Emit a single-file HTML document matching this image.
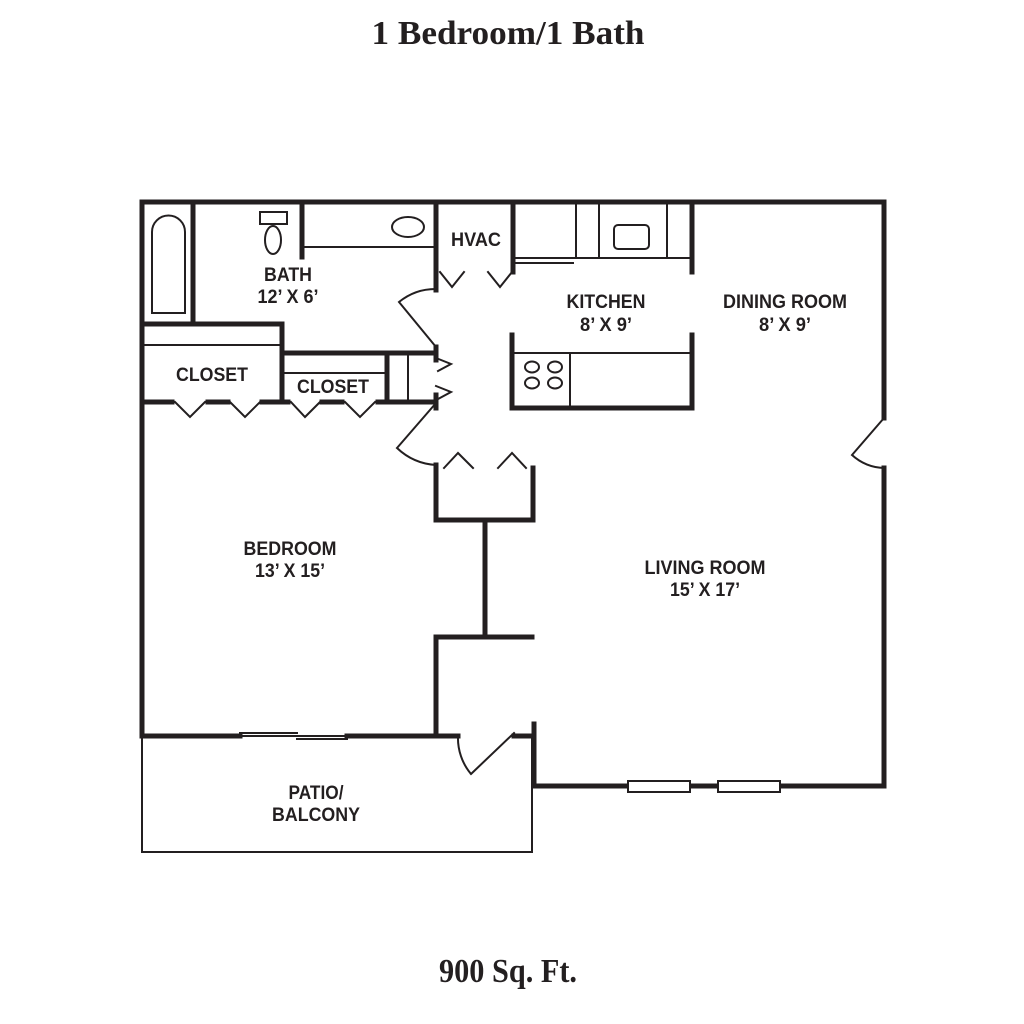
<!DOCTYPE html>
<html><head><meta charset="utf-8"><style>
html,body{margin:0;padding:0;background:#fff;width:1024px;height:1024px;overflow:hidden}
svg{display:block}
.l{font-family:"Liberation Sans Narrow","Liberation Sans",sans-serif;font-weight:bold;font-size:19px;fill:#231f20;text-anchor:middle}
.t{font-family:"Liberation Serif",serif;font-weight:bold;font-size:34px;fill:#231f20;text-anchor:middle}
</style></head><body>
<svg width="1024" height="1024" viewBox="0 0 1024 1024" xmlns="http://www.w3.org/2000/svg">
<text class="t" x="508" y="44" textLength="273" lengthAdjust="spacingAndGlyphs">1 Bedroom/1 Bath</text>
<text class="t" x="508" y="982" textLength="138" lengthAdjust="spacingAndGlyphs">900 Sq. Ft.</text>
<g stroke="#231f20" fill="none" stroke-linecap="square">
<g stroke-width="5">
<path d="M142 736 V202 H884 V418"/>
<path d="M884 468 V786 H780 M718 786 H690 M628 786 H534 V724"/>
<path d="M142 736 H240 M347 736 H458 M514 736 H534"/>
<path d="M193 202 V323"/>
<path d="M142 324 H282 V402"/>
<path d="M142 402 H172 M208 402 H228 M262 402 H288 M322 402 H342 M378 402 H436"/>
<path d="M282 353 H436"/>
<path d="M387 353 V402"/>
<path d="M302 202 V257"/>
<path d="M436 202 V290"/>
<path d="M436 347 V360 M436 395 V408"/>
<path d="M513 202 V272"/>
<path d="M692 202 V272"/>
<path d="M512 335 V408 H692 V335"/>
<path d="M436 465 V520 H533 V468"/>
<path d="M485 520 V637"/>
<path d="M532 637 H436 V736"/>
</g>
<g stroke-width="2">
<path d="M142 345 H282"/>
<path d="M282 373 H385"/>
<path d="M408 353 V402"/>
<path d="M302 247 H436"/>
<path d="M513 258 H692 M513 263 H573"/>
<path d="M576 202 V258 M599 202 V258 M667 202 V258"/>
<path d="M512 353 H692 M570 353 V408"/>
<path d="M240 736 H347 M240 733 H297 M297 739 H347"/>
<path d="M142 736 V852 H532 V736"/>
<rect x="628" y="781" width="62" height="11" fill="#fff"/>
<rect x="718" y="781" width="62" height="11" fill="#fff"/>
<path d="M152 313 V232 A16.5 16.5 0 0 1 185 232 V313 Z"/>
<rect x="260" y="212" width="27" height="12"/>
<ellipse cx="273" cy="240" rx="8" ry="14"/>
<ellipse cx="408" cy="227" rx="16" ry="10"/>
<rect x="614" y="225" width="35" height="24" rx="4"/>
<ellipse cx="532" cy="367" rx="7" ry="5.5"/><ellipse cx="555" cy="367" rx="7" ry="5.5"/>
<ellipse cx="532" cy="383" rx="7" ry="5.5"/><ellipse cx="555" cy="383" rx="7" ry="5.5"/>
<path d="M436 347 L399 302 M399 302 A58 58 0 0 1 436 289"/>
<path d="M436 403 L397 448 M397 448 A62 62 0 0 0 436 465"/>
<path d="M884 418 L852 455 M852 455 A50 50 0 0 0 884 468"/>
<path d="M514 733 L471 774 M471 774 A56 56 0 0 1 458 736"/>
<path d="M440 272 L452 287 L464 272 M488 272 L500 287 L512 272"/>
<path d="M175 402 L190 417 L205 402 M230 402 L245 417 L260 402"/>
<path d="M291 402 L305 417 L320 402 M345 402 L360 417 L375 402"/>
<path d="M436 358 L451 364 L438 371 M436 386 L451 392 L438 399"/>
<path d="M444 468 L458 453 L473 468 M498 468 L512 453 L526 468"/>
</g>
</g>
<text class="l" x="476" y="246" textLength="50" lengthAdjust="spacingAndGlyphs">HVAC</text>
<text class="l" x="288" y="281" textLength="48" lengthAdjust="spacingAndGlyphs">BATH</text>
<text class="l" x="288" y="303" textLength="61" lengthAdjust="spacingAndGlyphs">12’ X 6’</text>
<text class="l" x="606" y="308" textLength="79" lengthAdjust="spacingAndGlyphs">KITCHEN</text>
<text class="l" x="606" y="331" textLength="52" lengthAdjust="spacingAndGlyphs">8’ X 9’</text>
<text class="l" x="785" y="308" textLength="124" lengthAdjust="spacingAndGlyphs">DINING ROOM</text>
<text class="l" x="785" y="331" textLength="52" lengthAdjust="spacingAndGlyphs">8’ X 9’</text>
<text class="l" x="212" y="381" textLength="72" lengthAdjust="spacingAndGlyphs">CLOSET</text>
<text class="l" x="333" y="393" textLength="72" lengthAdjust="spacingAndGlyphs">CLOSET</text>
<text class="l" x="290" y="555" textLength="93" lengthAdjust="spacingAndGlyphs">BEDROOM</text>
<text class="l" x="290" y="577" textLength="70" lengthAdjust="spacingAndGlyphs">13’ X 15’</text>
<text class="l" x="705" y="574" textLength="121" lengthAdjust="spacingAndGlyphs">LIVING ROOM</text>
<text class="l" x="705" y="596" textLength="70" lengthAdjust="spacingAndGlyphs">15’ X 17’</text>
<text class="l" x="316" y="799" textLength="55" lengthAdjust="spacingAndGlyphs">PATIO/</text>
<text class="l" x="316" y="821" textLength="88" lengthAdjust="spacingAndGlyphs">BALCONY</text>
</svg>
</body></html>
